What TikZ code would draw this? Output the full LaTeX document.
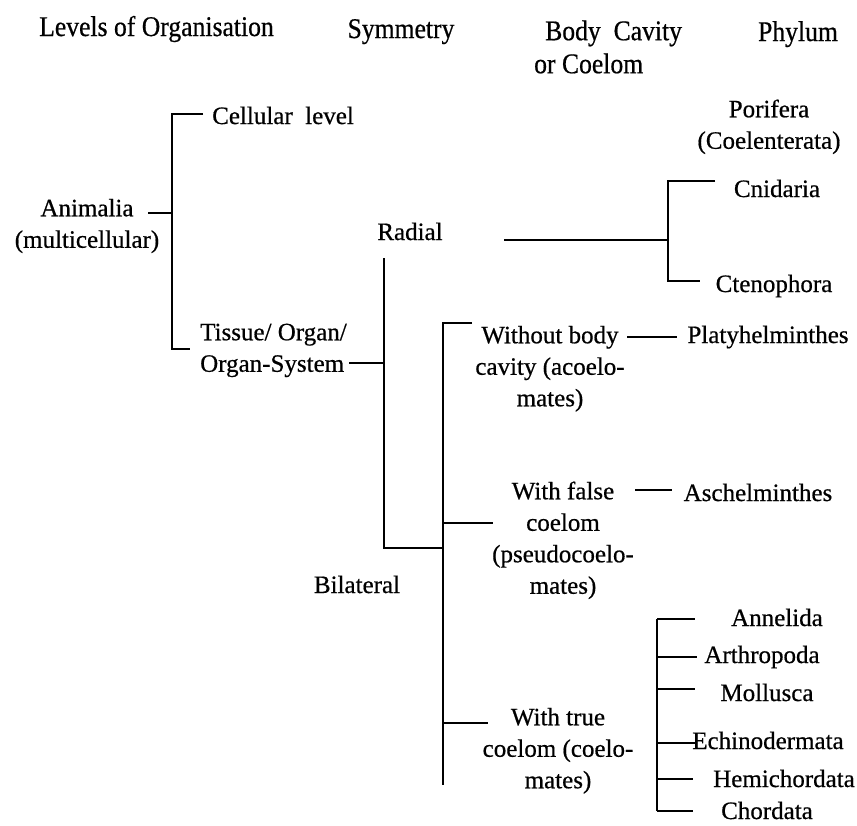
\documentclass[tikz,border=0pt]{standalone}
\usepackage{fontspec}
\setmainfont{Liberation Serif}[FakeBold=0.6]
\newfontfamily\hdrfont{Liberation Serif}[FakeStretch=0.9,FakeBold=0.6]
\begin{document}
\begin{tikzpicture}[x=1pt,y=-1pt,
  lbl/.style={inner sep=0pt,font=\fontsize{25}{31.5}\selectfont,anchor=base},
  ml/.style={inner sep=0pt,font=\fontsize{25}{31.5}\selectfont,align=center,anchor=north},
  hdr/.style={inner sep=0pt,font=\hdrfont\fontsize{28.5}{33}\selectfont,anchor=base},
  ln/.style={draw=black,line width=2.8pt,line cap=butt,line join=miter}]
\useasboundingbox (0,0) rectangle (857,825);
% headers
\node[hdr] (h1) at (156.5,36) {Levels of Organisation};
\node[hdr] (h2) at (401,38) {Symmetry};
\node[hdr,anchor=north west,align=left] (h3) at (534,16.9) {\strut\hspace{11pt}Body~ Cavity\\\strut or Coelom};
\node[hdr] (h4) at (798,41) {Phylum};
% labels
\node[lbl,anchor=base west] (cell) at (212,124) {Cellular~ level};
\node[ml] (anim) at (87,194) {\strut Animalia\\\strut(multicellular)};
\node[ml,anchor=north west,align=left] (tissue) at (200,318) {\strut Tissue/ Organ/\\\strut Organ-System};
\node[lbl] (radial) at (410,240) {Radial};
\node[lbl] (bilat) at (357,593) {Bilateral};
\node[ml] (wobc) at (550,321) {\strut Without body\\\strut cavity (acoelo-\\\strut mates)};
\node[ml] (wfc) at (563,477) {\strut With false\\\strut coelom\\\strut(pseudocoelo-\\\strut mates)};
\node[ml] (wtc) at (558,703) {\strut With true\\\strut coelom (coelo-\\\strut mates)};
\node[ml] (porif) at (769,95) {\strut Porifera\\\strut(Coelenterata)};
\node[lbl] (cnid) at (777,197) {Cnidaria};
\node[lbl] (cteno) at (774,292) {Ctenophora};
\node[lbl] (platy) at (768,343) {Platyhelminthes};
\node[lbl] (asch) at (758,501) {Aschelminthes};
\node[lbl] (anne) at (777,626) {Annelida};
\node[lbl] (arth) at (762,663) {Arthropoda};
\node[lbl] (moll) at (767,701) {Mollusca};
\node[lbl] (echi) at (768,749) {Echinodermata};
\node[lbl] (hemi) at (784,787) {Hemichordata};
\node[lbl] (chord) at (767,819) {Chordata};
% junction coordinates
\coordinate (a0) at (148,213); \coordinate (a1) at (172,213);
\coordinate (a2) at (203,114); \coordinate (a3) at (172,114);
\coordinate (a4) at (172,349); \coordinate (a5) at (190,349);
\coordinate (t0) at (349,363); \coordinate (t1) at (384,363);
\coordinate (s0) at (384,258); \coordinate (s1) at (384,548); \coordinate (s2) at (443,548);
\coordinate (r0) at (504,240); \coordinate (r1) at (668,240);
\coordinate (r2) at (715,181); \coordinate (r3) at (668,181);
\coordinate (r4) at (668,281); \coordinate (r5) at (700,281);
\coordinate (b0) at (472,323); \coordinate (b1) at (443,323); \coordinate (b2) at (443,785);
\coordinate (b3) at (443,523); \coordinate (b4) at (493,523);
\coordinate (b5) at (443,723); \coordinate (b6) at (488,723);
\coordinate (p0) at (627,337); \coordinate (p1) at (677,337);
\coordinate (q0) at (635,490); \coordinate (q1) at (672,490);
\coordinate (c0) at (657,619); \coordinate (c5) at (657,811);
\coordinate (c1) at (657,657); \coordinate (c2) at (657,689);
\coordinate (c3) at (657,743); \coordinate (c4) at (657,779);
\coordinate (e0) at (695,619); \coordinate (e1) at (697,657);
\coordinate (e2) at (695,689); \coordinate (e3) at (697,743);
\coordinate (e4) at (693,779); \coordinate (e5) at (693,811);
% connectors
\draw[ln] (a0) -- (a1);
\draw[ln] (a2) -- (a3) -- (a4) -- (a5);
\draw[ln] (t0) -- (t1);
\draw[ln] (s0) -- (s1) -- (s2);
\draw[ln] (r0) -- (r1);
\draw[ln] (r2) -- (r3) -- (r4) -- (r5);
\draw[ln] (b0) -- (b1) -- (b2);
\draw[ln] (b3) -- (b4);
\draw[ln] (b5) -- (b6);
\draw[ln] (p0) -- (p1);
\draw[ln] (q0) -- (q1);
\draw[ln] (c0) -- (c5);
\draw[ln] (c0) -- (e0);
\draw[ln] (c1) -- (e1);
\draw[ln] (c2) -- (e2);
\draw[ln] (c3) -- (e3);
\draw[ln] (c4) -- (e4);
\draw[ln] (c5) -- (e5);
\end{tikzpicture}
\end{document}
